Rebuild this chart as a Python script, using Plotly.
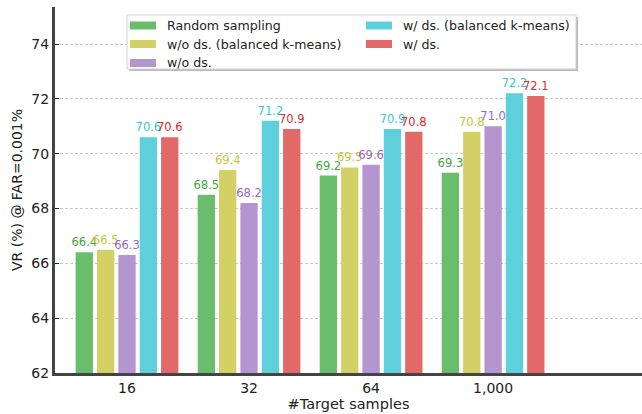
import plotly.graph_objects as go

categories = ["16", "32", "64", "1,000"]
series_names = ["Random sampling", "w/o ds. (balanced k-means)", "w/o ds.",
                "w/ ds. (balanced k-means)", "w/ ds."]
random_sampling = [66.4, 68.5, 69.2, 69.3]
wo_ds_bkm = [66.5, 69.4, 69.5, 70.8]
wo_ds = [66.3, 68.2, 69.6, 71.0]
w_ds_bkm = [70.6, 71.2, 70.9, 72.2]
w_ds = [70.6, 70.9, 70.8, 72.1]

bar_colors = ["#6abd6a", "#d3d166", "#b495d0", "#5ed0dc", "#e36868"]
text_colors = ["#3ea83e", "#c9c535", "#9a66c6", "#36c6d6", "#e02a2a"]

values = [random_sampling, wo_ds_bkm, wo_ds, w_ds_bkm, w_ds]

# plot area in pixels (for converting the legend box layout to paper coords)
W, H = 642, 414
ML, MR, MT, MB = 55, 0, 7, 41
PW, PH = W - ML - MR, H - MT - MB


def px_x(px):
    return (px - ML) / PW


def px_y(py):
    return (H - MB - py) / PH


fig = go.Figure()
for name, vals, bc, tc in zip(series_names, values, bar_colors, text_colors):
    fig.add_trace(go.Bar(
        x=categories, y=vals, name=name,
        marker=dict(color=bc, line=dict(width=0)),
        text=[f"{v:.1f}" for v in vals],
        textposition="outside",
        textfont=dict(color=tc, size=11.5, family="DejaVu Sans"),
        cliponaxis=False,
        constraintext="none",
        showlegend=False,
    ))

# manual legend (two columns, column-major like the reference)
shapes = []
annotations = []
shapes.append(dict(type="rect", xref="paper", yref="paper",
                   x0=px_x(129), x1=px_x(578), y0=px_y(71), y1=px_y(17),
                   fillcolor="#bbbbbb", line=dict(width=0), layer="above"))
shapes.append(dict(type="rect", xref="paper", yref="paper",
                   x0=px_x(127), x1=px_x(576), y0=px_y(69), y1=px_y(15),
                   fillcolor="white", line=dict(color="#d0d0d0", width=1), layer="above"))
slots = [(130, 25.5), (130, 44), (130, 63), (366, 25.5), (366, 44)]
for name, bc, (sx, sy) in zip(series_names, bar_colors, slots):
    shapes.append(dict(type="rect", xref="paper", yref="paper",
                       x0=px_x(sx), x1=px_x(sx + 26), y0=px_y(sy + 4), y1=px_y(sy - 4),
                       fillcolor=bc, line=dict(width=0), layer="above"))
    annotations.append(dict(xref="paper", yref="paper", x=px_x(sx + 35), y=px_y(sy),
                            xanchor="left", yanchor="middle", text=name, showarrow=False,
                            font=dict(size=12.6, color="#222222", family="DejaVu Sans")))

fig.update_layout(
    width=W, height=H,
    margin=dict(l=ML, r=MR, t=MT, b=MB),
    paper_bgcolor="white", plot_bgcolor="white",
    font=dict(family="DejaVu Sans", color="#222222"),
    barmode="group", bargap=0.125, bargroupgap=0.19,
    showlegend=False,
    shapes=shapes, annotations=annotations,
)
fig.update_xaxes(
    range=[-0.59, 4.22], automargin=False,
    showline=True, linecolor="#444444", linewidth=3,
    ticks="", tickfont=dict(size=14),
    title=dict(text="#Target samples", font=dict(size=14.5), standoff=0),
    showgrid=False,
)
fig.update_yaxes(
    range=[62, 75.35], automargin=False,
    tickvals=[62, 64, 66, 68, 70, 72, 74],
    showline=True, linecolor="#444444", linewidth=3,
    ticks="inside", ticklen=4, tickwidth=1, tickcolor="#222222",
    tickfont=dict(size=14),
    showgrid=True, gridcolor="#c8c8c8", griddash="3px,2px", gridwidth=1,
    title=dict(text="VR (%) @ FAR=0.001%", font=dict(size=14), standoff=6),
    zeroline=False,
)
fig.write_html(
    "out.html",
    config={"displayModeBar": False},
    post_script="document.body.style.margin='0';document.body.style.overflow='hidden';",
)
